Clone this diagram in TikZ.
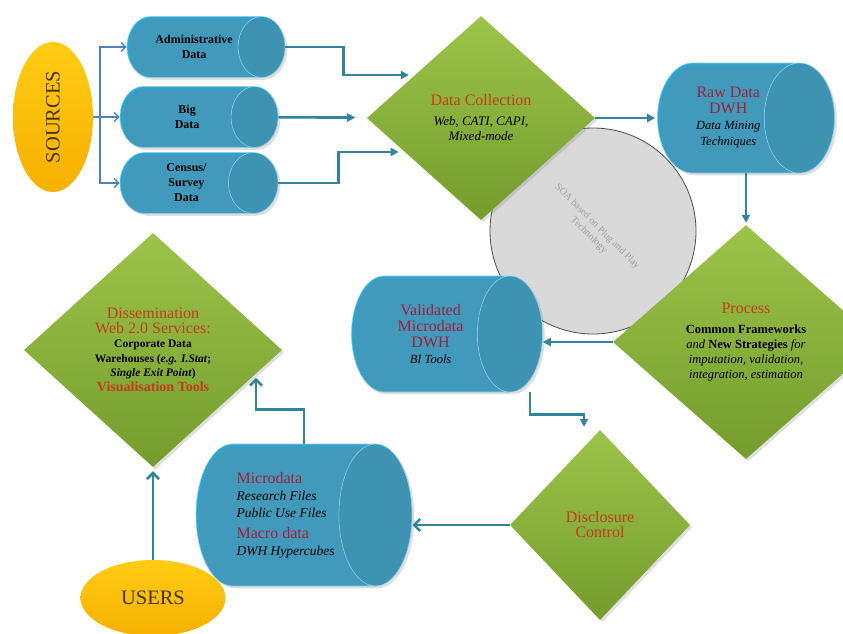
\documentclass[tikz,border=0pt]{standalone}
\usepackage{fontspec}
\setmainfont{Liberation Serif}
\usetikzlibrary{arrows.meta,shapes.geometric,shadows}
\definecolor{pillblue}{RGB}{44,164,208}
\definecolor{pillend}{RGB}{40,154,196}
\definecolor{leaflight}{RGB}{156,196,74}
\definecolor{leafdark}{RGB}{116,156,44}
\definecolor{sunlight}{RGB}{255,204,20}
\definecolor{sundark}{RGB}{246,176,0}
\definecolor{ovaltext}{RGB}{70,52,30}
\definecolor{flowblue}{RGB}{49,132,158}
\definecolor{srcblue}{RGB}{79,129,189}
\definecolor{titlered}{RGB}{196,60,30}
\definecolor{dwhred}{RGB}{160,32,60}
\definecolor{soagray}{RGB}{217,217,217}
\newcommand{\ttl}[1]{{\fontsize{16}{18}\selectfont\color{titlered}#1}}
\newcommand{\dwh}[1]{{\fontsize{16}{18}\selectfont\color{dwhred}#1}}
\newcommand{\mode}[1]{{\itshape\fontsize{13}{15}\selectfont #1}}

\begin{document}
\begin{tikzpicture}[x=1pt,y=-1pt,
  pill/.style={cylinder,anchor=shape center,cylinder uses custom fill,cylinder body fill=pillblue,
    cylinder end fill=pillend,draw=white!45!pillblue,line width=0.6pt,inner sep=0pt,align=center,
    drop shadow={opacity=0.25}},
  srcpill/.style={pill,aspect=2.0,minimum height=158,minimum width=61,
    font=\bfseries\fontsize{12}{15}\selectfont},
  store/.style={pill,font=\itshape\fontsize{12.5}{16}\selectfont},
  leaf/.style={diamond,inner sep=0pt,top color=leaflight,bottom color=leafdark,align=center,
    font=\fontsize{12.5}{15}\selectfont,drop shadow={opacity=0.25}},
  oval/.style={ellipse,inner sep=0pt,top color=sunlight,bottom color=sundark,text=ovaltext,
    font=\fontsize{20.5}{20}\selectfont},
  soa/.style={circle,fill=soagray,draw=gray!60!black,line width=0.8pt,minimum size=206,inner sep=0pt,
    text=gray!75,align=center,font=\fontsize{10}{12}\selectfont},
  flow/.style={flowblue,line width=2.6pt,-{Triangle[length=8pt,width=8pt]}},
  flowopen/.style={flowblue,line width=2.6pt,-{Straight Barb[length=6pt,width=12pt]}},
  feed/.style={srcblue,line width=1.5pt,-{Straight Barb[length=4.5pt,width=9pt]}},
]
  \useasboundingbox (0,0) rectangle (843,633);
  \clip (0,0) rectangle (843,633);

  \node[oval,minimum width=80,minimum height=150] (sources) at (53,117) {\rotatebox{90}{SOURCES}};
  \coordinate (fork) at (100,117);
  \node[srcpill] (admin) at (206,47) {Administrative\\Data};
  \node[srcpill] (big) at (199,117) {Big\\Data};
  \node[srcpill,aspect=1.3] (census) at (199,183) {Census/\\Survey\\Data};

  \node[soa,rotate=-45] (soa) at (593,231) {SOA based on Plug and Play\\Technology};

  \node[leaf,minimum width=228,minimum height=204] (collect) at (481,118) {%
    \ttl{Data Collection}\\[5pt]\mode{Web, CATI, CAPI,}\\\mode{Mixed-mode}};
  \node[store,aspect=1.15,minimum height=177,minimum width=110] (raw) at (746,118) {%
    \dwh{\upshape Raw Data}\\\dwh{\upshape DWH}\\Data Mining\\Techniques};
  \node[leaf,minimum width=266,minimum height=234] (proc) at (746,342) {%
    \ttl{Process}\\[5pt]\textbf{Common Frameworks}\\\textit{and} \textbf{New Strategies} \textit{for}\\
    \textit{imputation, validation,}\\\textit{integration, estimation}};
  \node[store,aspect=1.1,minimum height=191,minimum width=116] (valid) at (447,334) {%
    \dwh{\upshape Validated}\\\dwh{\upshape Microdata}\\\dwh{\upshape DWH}\\BI Tools};
  \node[leaf,minimum width=180,minimum height=190] (discl) at (600,525) {%
    \ttl{Disclosure}\\\ttl{Control}};
  \node[store,aspect=0.85,minimum height=216,minimum width=142,align=left,
    font=\itshape\fontsize{13.5}{17}\selectfont] (micro) at (304,515) {%
    \dwh{\upshape Microdata}\\Research Files\\Public Use Files\\[4pt]\dwh{\upshape Macro data}\\DWH Hypercubes};
  \node[leaf,minimum width=258,minimum height=234,font=\fontsize{11.5}{14.5}\selectfont] (dissem) at (153,350) {%
    \ttl{Dissemination}\\\ttl{Web 2.0 Services:}\\\textbf{Corporate Data}\\
    \textbf{Warehouses (\textit{e.g. I.Stat};}\\\textbf{\textit{Single Exit Point})}\\
    {\bfseries\fontsize{14}{16}\selectfont\color{titlered}Visualisation Tools}};
  \node[oval,minimum width=145,minimum height=76] (users) at (153,598) {USERS};

  \draw[feed] (sources) -- (big);
  \draw[feed] (fork) |- (admin);
  \draw[feed] (fork) |- (census);
  \draw[flow,shorten >=6pt] (admin.east) -- ++(58,0) |- (collect.147);
  \draw[flow,shorten >=12pt] (big) -- (collect);
  \draw[flow,shorten >=6pt] (census.east) -- ++(60,0) |- (collect.204);
  \draw[flow,shorten >=2pt] (collect) -- (raw);
  \draw[flow,shorten >=2pt] (raw.shape center |- raw.south) -- (raw.shape center |- proc.north);
  \draw[flow] (proc.west) -- (proc.west -| valid.east);
  \draw[flow,shorten >=3pt] ([xshift=83]valid.shape center |- valid.south) -- ++(0,22)
    -| ([xshift=-16]discl.north);
  \draw[flowopen] (discl.west) -- (discl.west -| micro.east);
  \draw[flowopen,shorten >=4pt] (micro.shape center |- micro.north) -- ++(0,-34) -| (dissem.347);
  \draw[flowopen,shorten >=4pt] (users) -- (dissem);
\end{tikzpicture}
\end{document}
